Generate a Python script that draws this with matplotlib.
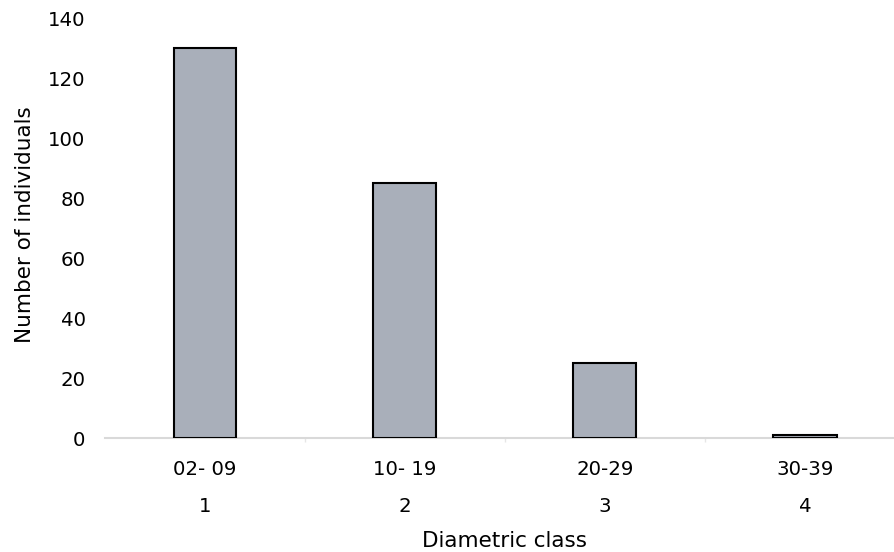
import matplotlib
matplotlib.use("Agg")
import matplotlib.pyplot as plt
from matplotlib.transforms import blended_transform_factory, offset_copy

classes = ["1", "2", "3", "4"]
ranges = ["02- 09", "10- 19", "20-29", "30-39"]
counts = [130, 85, 25, 1]
yticks = [0, 20, 40, 60, 80, 100, 120, 140]

plt.rcParams['font.family'] = ['DejaVu Sans']
fig = plt.figure(figsize=(8.95, 5.52), dpi=100)
W, H = 895, 552
ax = fig.add_axes([105 / W, (H - 438) / H, (895 - 105) / W, (438 - 18) / H])

pos = list(range(1, len(counts) + 1))
ax.bar(pos, counts, width=0.315, color="#A9AFBA", edgecolor="black", linewidth=1.5, zorder=3)

ax.set_xlim(0.5, 4.45)
ax.set_ylim(0, 140)
ax.set_yticks(yticks)
ax.set_yticklabels([str(v) for v in yticks], fontsize=14.2)
ax.tick_params(axis='y', length=0, pad=14)

for s in ["top", "right", "left"]:
    ax.spines[s].set_visible(False)
ax.spines["bottom"].set_color("#D9D9D9")
ax.spines["bottom"].set_linewidth(1.5)

ax.set_xticks(pos)
ax.set_xticklabels(ranges, fontsize=14.2)
ax.tick_params(axis='x', which='major', length=0, pad=16)
ax.set_xticks([1.5, 2.5, 3.5], minor=True)
ax.tick_params(axis='x', which='minor', length=3, color="#E6E6E6", width=1)

trans = blended_transform_factory(ax.transData, ax.transAxes)
trans = offset_copy(trans, fig=fig, x=0, y=-68, units='dots')
for p, c in zip(pos, classes):
    ax.text(p, 0, c, transform=trans, ha='center', va='center', fontsize=14.2)

fig.text(505 / W, 1 - 541 / H, "Diametric class", ha='center', va='center', fontsize=15.5)
fig.text(25 / W, 1 - 225 / H, "Number of individuals", ha='center', va='center',
         rotation=90, fontsize=15.5)

fig.savefig("out.png", dpi=100)
